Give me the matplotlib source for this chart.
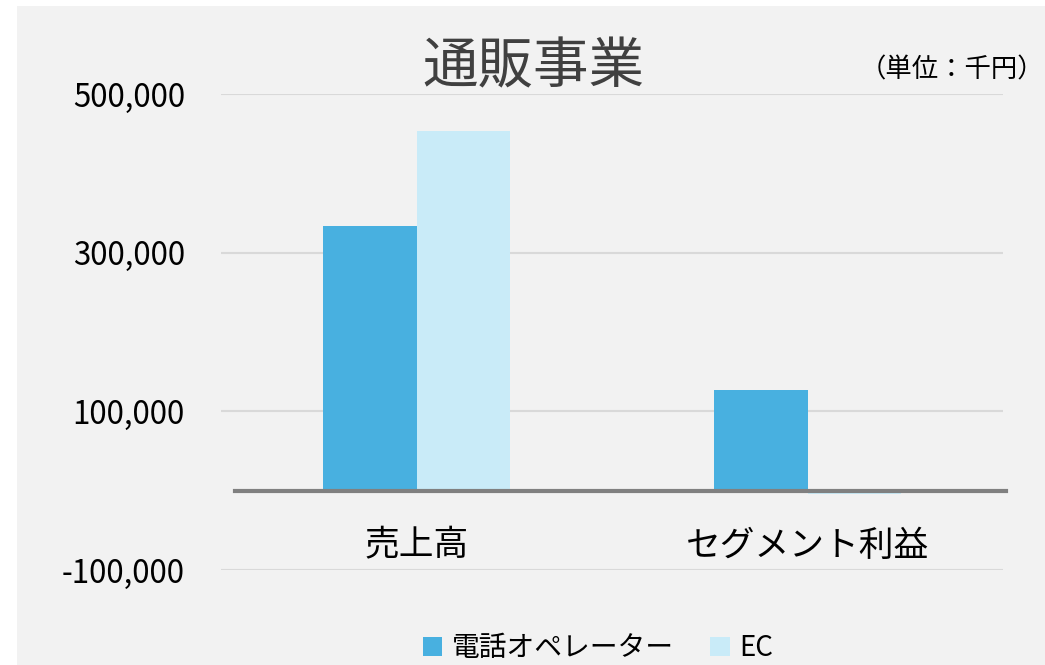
import numpy as np
import matplotlib.pyplot as plt
from matplotlib.patches import Rectangle
import matplotlib.transforms as mtransforms

plt.rcParams['font.family'] = ['Noto Sans CJK JP', 'DejaVu Sans']

# data (千円)
categories = ['売上高', 'セグメント利益']
series_names = ['電話オペレーター', 'EC']
operator_vals = [333000, 126500]
ec_vals = [453000, -4500]
colors = ['#48B0E0', '#C9EBF8']
yticks = [-100000, 100000, 300000, 500000]

fig = plt.figure(figsize=(10.45, 6.65), dpi=100, facecolor='white')
W, H = 1045, 665
# gray chart area (white strip on top / left)
fig.patches.append(Rectangle((17 / W, 0), 1, 1 - 6 / H, transform=fig.transFigure,
                             facecolor='#F2F2F2', edgecolor='none', zorder=-10))

ax = fig.add_axes([221 / W, 1 - 570 / H, 782 / W, 476 / H])
ax.set_facecolor('none')

x = np.arange(len(categories))
w = 0.24
ax.bar(x - w / 2, operator_vals, w, color=colors[0], label=series_names[0], zorder=3)
ax.bar(x + w / 2, ec_vals, w, color=colors[1], label=series_names[1], zorder=3)

ax.set_xlim(-0.5, 1.5)
ax.set_ylim(-100000, 500000)
ax.set_yticks(yticks)
ax.set_yticklabels([f'{v:,}' for v in yticks], fontsize=22.5, color='#000000')
ax.tick_params(axis='y', length=0, pad=26)
ax.set_xticks([])
for s in ax.spines.values():
    s.set_visible(False)
ax.grid(axis='y', color='#D9D9D9', linewidth=1.5, zorder=0)

# zero line
trans = mtransforms.blended_transform_factory(ax.transAxes, ax.transData)
ax.plot([0.018, 1.004], [0, 0], color='#808080', linewidth=3, transform=trans,
        clip_on=False, zorder=4)

# category labels
for xi, c in zip(x, categories):
    ax.text(xi, -70000, c, ha='center', va='center', fontsize=25, color='#000000')

fig.text(533 / W, 1 - 68 / H, '通販事業', ha='center', va='center', fontsize=40, color='#404040')
fig.text(1044 / W, 1 - 70 / H, '（単位：千円）', ha='right', va='center', fontsize=19, color='#000000')

leg = fig.legend(loc='center', bbox_to_anchor=(598 / W, 1 - 648 / H), ncol=2, frameon=False,
                 fontsize=20, handlelength=0.7, handleheight=0.7, handletextpad=0.35,
                 columnspacing=1.3)

fig.savefig('out.png', dpi=100, facecolor=fig.get_facecolor())
